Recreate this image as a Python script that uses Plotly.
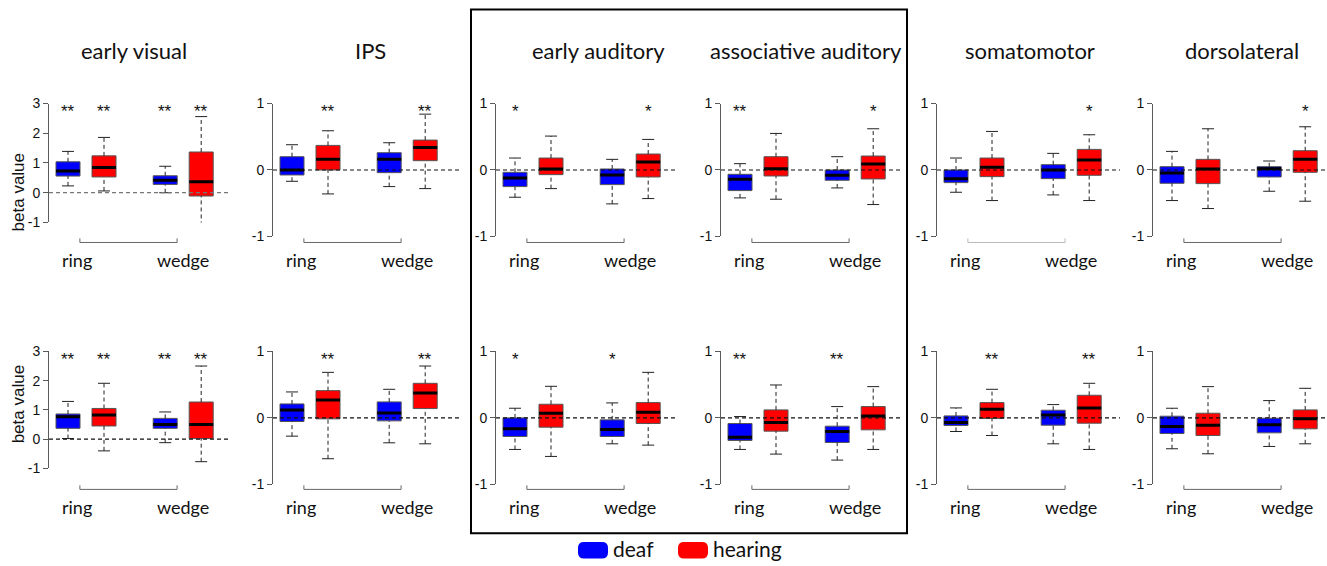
import plotly.graph_objects as go

W, H = 1327, 566

regions = ["early visual", "IPS", "early auditory", "associative auditory",
           "somatomotor", "dorsolateral"]
conditions = ["ring", "wedge"]
groups = ["deaf", "hearing"]
group_colors = {"deaf": "#0000FF", "hearing": "#FF0000"}

# order of the four boxes in every panel
box_groups = ["deaf", "hearing", "deaf", "hearing"]
box_pos = [1.0, 2.0, 3.7, 4.7]

# ---- top row: whisker low, quartiles, median, whisker high (per region, per box)
top_low = [[0.23, 0.06, 0.00, -1.10], [-0.17, -0.36, -0.25, -0.28],
           [-0.41, -0.28, -0.51, -0.43], [-0.42, -0.44, -0.27, -0.52],
           [-0.335, -0.46, -0.375, -0.46], [-0.46, -0.58, -0.32, -0.47]]
top_q1 = [[0.56, 0.53, 0.28, -0.11], [-0.075, 0.0, -0.04, 0.14],
          [-0.25, -0.07, -0.22, -0.105], [-0.31, -0.09, -0.155, -0.135],
          [-0.19, -0.10, -0.13, -0.08], [-0.20, -0.205, -0.105, -0.035]]
top_med = [[0.73, 0.85, 0.42, 0.37], [0.0, 0.16, 0.16, 0.34],
           [-0.12, 0.015, -0.075, 0.12], [-0.14, 0.02, -0.08, 0.09],
           [-0.13, 0.04, 0.0, 0.15], [-0.045, 0.015, 0.02, 0.16]]
top_q3 = [[1.04, 1.24, 0.57, 1.37], [0.20, 0.37, 0.26, 0.45],
          [-0.035, 0.18, 0.015, 0.24], [-0.065, 0.20, 0.0, 0.21],
          [0.0, 0.18, 0.08, 0.31], [0.05, 0.16, 0.05, 0.29]]
top_high = [[1.39, 1.86, 0.89, 2.56], [0.38, 0.59, 0.41, 0.84],
            [0.18, 0.51, 0.16, 0.46], [0.095, 0.55, 0.20, 0.62],
            [0.18, 0.58, 0.25, 0.53], [0.28, 0.62, 0.135, 0.65]]
top_stars = [["**", "**", "**", "**"], ["", "**", "", "**"],
             ["*", "", "", "*"], ["**", "", "", "*"],
             ["", "", "", "*"], ["", "", "", "*"]]

# ---- bottom row
bot_low = [[0.02, -0.40, -0.12, -0.77], [-0.275, -0.615, -0.375, -0.39],
           [-0.475, -0.58, -0.39, -0.41], [-0.475, -0.545, -0.635, -0.475],
           [-0.205, -0.265, -0.39, -0.475], [-0.465, -0.54, -0.43, -0.39]]
bot_q1 = [[0.37, 0.45, 0.37, 0.02], [-0.055, -0.015, -0.045, 0.14],
          [-0.28, -0.14, -0.28, -0.085], [-0.34, -0.20, -0.37, -0.18],
          [-0.115, -0.01, -0.11, -0.08], [-0.235, -0.265, -0.225, -0.165]]
bot_med = [[0.77, 0.83, 0.50, 0.50], [0.12, 0.27, 0.075, 0.375],
           [-0.165, 0.07, -0.175, 0.085], [-0.29, -0.07, -0.205, 0.03],
           [-0.07, 0.13, 0.045, 0.15], [-0.13, -0.11, -0.105, -0.015]]
bot_q3 = [[0.86, 1.05, 0.71, 1.27], [0.21, 0.41, 0.24, 0.52],
          [0.0, 0.205, -0.03, 0.23], [-0.085, 0.12, -0.125, 0.17],
          [0.03, 0.23, 0.115, 0.34], [0.025, 0.07, -0.005, 0.12]]
bot_high = [[1.29, 1.91, 0.93, 2.5], [0.39, 0.685, 0.43, 0.78],
            [0.145, 0.475, 0.225, 0.685], [0.02, 0.495, 0.17, 0.47],
            [0.15, 0.43, 0.20, 0.52], [0.145, 0.47, 0.26, 0.445]]
bot_stars = [["**", "**", "**", "**"], ["", "**", "", "**"],
             ["*", "", "*", ""], ["**", "", "**", ""],
             ["", "**", "", "**"], ["", "", "", ""]]

y_ticks_wide = [-1, 0, 1, 2, 3]
y_ticks_narrow = [-1, 0, 1]

rows = [
    dict(low=top_low, q1=top_q1, med=top_med, q3=top_q3, high=top_high, stars=top_stars),
    dict(low=bot_low, q1=bot_q1, med=bot_med, q3=bot_q3, high=bot_high, stars=bot_stars),
]

# ---- page geometry (pixels from the top-left corner of the figure)
axis_px = [49, 273, 496, 721, 937, 1153]
end_px = [231, 460, 678, 902, 1120, 1327]
title_px = [134, 370, 598, 806, 1030, 1242]
title_y_px = 43.7
row_top_px = [98.3, 353.4]
row_bot_wide_px = [220.7, 473.8]
row_bot_px = [235.1, 490.2]
bracket_px = [241.3, 495.4]
bracket_tick_px = 4.2
cond_label_px = [259.8, 513.9]
ylabel_px = [189.8, 407.9]
star_drop_px = 8.2
frame_px = dict(x0=471, x1=907, y0=1.5, y1=540.6)
legend_px = {"deaf": 578, "hearing": 678}
legend_y_px = (549.5, 566.5)
legend_text_y_px = 556.5

unit_px = 36.0
box_w = 24 / unit_px
cap_w = box_w / 2
x_start = box_pos[0] - 19 / unit_px
bracket_x = [1.33, 4.03]
cond_label_x = [1.25, 4.2]

AXIS_GREY = "#5a5a5a"
TXT_FONT = "Lato"
NUM_FONT = "Liberation Sans"


def px_x(p):
    return p / W


def px_y(p):
    return 1 - p / H


fig = go.Figure()
layout = {}
shapes = []
annotations = []

k = 0
for r, row in enumerate(rows):
    for i, region in enumerate(regions):
        k += 1
        xa = "x" if k == 1 else f"x{k}"
        ya = "y" if k == 1 else f"y{k}"
        wide = (i == 0)
        ymin, ymax = (-1, 3) if wide else (-1, 1)
        ybot = row_bot_wide_px[r] if wide else row_bot_px[r]
        x_end = x_start + (end_px[i] - axis_px[i]) / unit_px
        ticks = y_ticks_wide if wide else y_ticks_narrow

        layout["xaxis" if k == 1 else f"xaxis{k}"] = dict(
            domain=[px_x(axis_px[i]), px_x(end_px[i])], range=[x_start, x_end],
            visible=False, anchor=ya, fixedrange=True)
        layout["yaxis" if k == 1 else f"yaxis{k}"] = dict(
            domain=[px_y(ybot), px_y(row_top_px[r])], range=[ymin, ymax],
            anchor=xa, showgrid=False, zeroline=False, showline=True,
            linecolor=AXIS_GREY, linewidth=1, ticks="outside", ticklen=5,
            tickcolor=AXIS_GREY, tickwidth=1,
            tickvals=ticks, ticktext=[str(v) for v in ticks],
            tickfont=dict(family=NUM_FONT, size=14, color="#111"),
            fixedrange=True)

        low, q1, med, q3, high = (row["low"][i], row["q1"][i], row["med"][i],
                                  row["q3"][i], row["high"][i])

        # whiskers (dashed) from box edges to extremes
        wx, wy = [], []
        for j, p in enumerate(box_pos):
            wx += [p, p, None, p, p, None]
            wy += [q3[j], high[j], None, low[j], q1[j], None]
        fig.add_trace(go.Scatter(x=wx, y=wy, mode="lines", xaxis=xa, yaxis=ya,
                                 line=dict(color="#222", width=1, dash="4px,3px"),
                                 hoverinfo="skip", showlegend=False))
        # whisker caps
        cx, cy = [], []
        for j, p in enumerate(box_pos):
            cx += [p - cap_w / 2, p + cap_w / 2, None, p - cap_w / 2, p + cap_w / 2, None]
            cy += [high[j], high[j], None, low[j], low[j], None]
        fig.add_trace(go.Scatter(x=cx, y=cy, mode="lines", xaxis=xa, yaxis=ya,
                                 line=dict(color="#222", width=1),
                                 hoverinfo="skip", showlegend=False))
        # boxes
        fig.add_trace(go.Bar(
            x=box_pos, y=[q3[j] - q1[j] for j in range(4)], base=q1,
            width=box_w, xaxis=xa, yaxis=ya,
            marker=dict(color=[group_colors[g] for g in box_groups],
                        line=dict(color="#555", width=1)),
            hoverinfo="skip", showlegend=False))
        # medians
        mx, my = [], []
        for j, p in enumerate(box_pos):
            mx += [p - box_w / 2, p + box_w / 2, None]
            my += [med[j], med[j], None]
        fig.add_trace(go.Scatter(x=mx, y=my, mode="lines", xaxis=xa, yaxis=ya,
                                 line=dict(color="black", width=3),
                                 hoverinfo="skip", showlegend=False))
        # zero reference line
        zcol = "#777" if (r == 0 and i == 0) else "#111"
        fig.add_trace(go.Scatter(x=[x_start, x_end], y=[0, 0], mode="lines",
                                 xaxis=xa, yaxis=ya,
                                 line=dict(color=zcol, width=1.2, dash="4px,3px"),
                                 hoverinfo="skip", showlegend=False))

        # significance stars
        for j, p in enumerate(box_pos):
            s = row["stars"][i][j]
            if s:
                annotations.append(dict(
                    x=p, y=px_y(row_top_px[r] + star_drop_px), xref=xa, yref="paper",
                    text=s, showarrow=False, xanchor="center", yanchor="middle",
                    font=dict(family=NUM_FONT, size=17, color="#111")))

        # condition bracket
        bcol = "#bbbbbb" if (r == 0 and i == 4) else "#666"
        by = px_y(bracket_px[r])
        bt = px_y(bracket_px[r] - bracket_tick_px)
        shapes.append(dict(type="path", xref=xa, yref="paper",
                           path=f"M {bracket_x[0]},{bt} L {bracket_x[0]},{by} "
                                f"L {bracket_x[1]},{by} L {bracket_x[1]},{bt}",
                           line=dict(color=bcol, width=1)))
        for c, cond in enumerate(conditions):
            annotations.append(dict(
                x=cond_label_x[c], y=px_y(cond_label_px[r]), xref=xa, yref="paper",
                text=cond, showarrow=False, xanchor="center", yanchor="middle",
                font=dict(family=TXT_FONT, size=18, color="#111")))

        if r == 0:
            annotations.append(dict(
                x=px_x(title_px[i]), y=px_y(title_y_px), xref="paper", yref="paper",
                text=region, showarrow=False, xanchor="center", yanchor="middle",
                font=dict(family=TXT_FONT, size=22, color="#111")))
        if i == 0:
            annotations.append(dict(
                x=px_x(18), y=px_y(ylabel_px[r]), xref="paper", yref="paper",
                text="beta value", textangle=-90, showarrow=False,
                xanchor="center", yanchor="middle",
                font=dict(family=NUM_FONT, size=17, color="#111")))

# frame around the auditory panels
shapes.append(dict(type="rect", xref="paper", yref="paper",
                   x0=px_x(frame_px["x0"]), x1=px_x(frame_px["x1"]),
                   y0=px_y(frame_px["y1"]), y1=px_y(frame_px["y0"]),
                   line=dict(color="black", width=2)))


# legend swatches (rounded) and labels
def rounded_rect(x0, y0, x1, y1, rad):
    X = lambda v: px_x(v)
    Y = lambda v: px_y(v)
    return (f"M {X(x0 + rad)},{Y(y0)} L {X(x1 - rad)},{Y(y0)} "
            f"Q {X(x1)},{Y(y0)} {X(x1)},{Y(y0 + rad)} L {X(x1)},{Y(y1 - rad)} "
            f"Q {X(x1)},{Y(y1)} {X(x1 - rad)},{Y(y1)} L {X(x0 + rad)},{Y(y1)} "
            f"Q {X(x0)},{Y(y1)} {X(x0)},{Y(y1 - rad)} L {X(x0)},{Y(y0 + rad)} "
            f"Q {X(x0)},{Y(y0)} {X(x0 + rad)},{Y(y0)} Z")


for g in groups:
    x0 = legend_px[g]
    shapes.append(dict(type="path", xref="paper", yref="paper",
                       path=rounded_rect(x0, legend_y_px[0], x0 + 30, legend_y_px[1], 6),
                       fillcolor=group_colors[g], line=dict(width=0)))
    annotations.append(dict(
        x=px_x(x0 + 33), y=px_y(legend_text_y_px), xref="paper", yref="paper", text=g,
        showarrow=False, xanchor="left", yanchor="middle",
        font=dict(family=TXT_FONT, size=21, color="#111")))

fig.update_layout(
    width=W, height=H, margin=dict(l=0, r=0, t=0, b=0),
    paper_bgcolor="white", plot_bgcolor="rgba(0,0,0,0)",
    showlegend=False, barmode="overlay",
    shapes=shapes, annotations=annotations, **layout)

fig.write_html("out.html")
